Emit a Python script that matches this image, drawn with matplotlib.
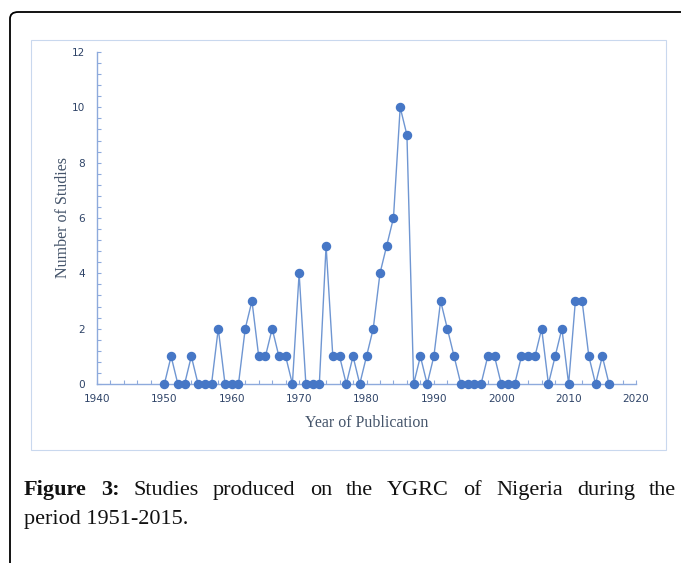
import matplotlib
matplotlib.use("Agg")
import matplotlib.pyplot as plt
from matplotlib.patches import FancyBboxPatch, Rectangle
from matplotlib.ticker import MultipleLocator

years = list(range(1950, 2017))
studies = [0, 1, 0, 0, 1, 0, 0, 0, 2, 0,
           0, 0, 2, 3, 1, 1, 2, 1, 1, 0,
           4, 0, 0, 0, 5, 1, 1, 0, 1, 0,
           1, 2, 4, 5, 6, 10, 9, 0, 1, 0,
           1, 3, 2, 1, 0, 0, 0, 0, 1, 1,
           0, 0, 0, 1, 1, 1, 2, 0, 1, 2,
           0, 3, 3, 1, 0, 1, 0]
x_ticks = [1940, 1950, 1960, 1970, 1980, 1990, 2000, 2010, 2020]
y_ticks = [0, 2, 4, 6, 8, 10, 12]
x_label = "Year of Publication"
y_label = "Number of Studies"
caption_bold = "Figure 3:"
caption_line1 = "Studies produced on the YGRC of Nigeria during the"
caption_line2 = "period 1951-2015."

W, H = 681, 563
fig = plt.figure(figsize=(W / 100, H / 100), dpi=100)

# outer black frame (rounded top-left corner)
frame = FancyBboxPatch((10 / W, -0.2), 1.2, (H - 12) / H + 0.2,
                       boxstyle="round,pad=0,rounding_size=0.012",
                       transform=fig.transFigure, fill=False,
                       edgecolor="black", linewidth=1.3, clip_on=False)
fig.patches.append(frame)

# chart area box
box = Rectangle((31 / W, (H - 450) / H), (666 - 31) / W, (450 - 40) / H,
                transform=fig.transFigure, fill=False,
                edgecolor="#c9d8ee", linewidth=0.8)
fig.patches.append(box)

ax = fig.add_axes([97 / W, (H - 384) / H, (636 - 97) / W, (384 - 52) / H])
axis_col = "#8eaadc"
label_col = "#44546a"
ax.plot(years, studies, color="#6f96d2", linewidth=1.0,
        marker="o", markersize=5.8, markerfacecolor="#4677c6",
        markeredgecolor="#4677c6", clip_on=False, zorder=3)
ax.set_xlim(1940, 2020)
ax.set_ylim(0, 12)
ax.set_xticks(x_ticks)
ax.set_yticks(y_ticks)
ax.xaxis.set_minor_locator(MultipleLocator(2))
ax.yaxis.set_minor_locator(MultipleLocator(0.4))
for s in ["top", "right"]:
    ax.spines[s].set_visible(False)
for s in ["left", "bottom"]:
    ax.spines[s].set_color(axis_col)
    ax.spines[s].set_linewidth(1.0)
ax.tick_params(axis="both", which="both", direction="in", color=axis_col,
               length=3, width=0.8)
ax.tick_params(axis="both", which="major", labelsize=7.6, labelcolor="#2f4468")
ax.tick_params(axis="y", which="major", pad=8.5)
ax.tick_params(axis="x", which="major", pad=7)
ax.set_xlabel(x_label, family="Liberation Serif", fontsize=11.5,
              color=label_col, labelpad=8)
ax.set_ylabel(y_label, family="Liberation Serif", fontsize=11.5,
              color=label_col, labelpad=0.5)
ax.patch.set_alpha(0)

# caption (justified first line)
fig.canvas.draw()
renderer = fig.canvas.get_renderer()
fs = 16
left_px, right_px = 24, 676
y1 = 1 - 495 / H
y2 = 1 - 524 / H

words = [(w, "bold") for w in caption_bold.split()] + \
        [(w, "normal") for w in caption_line1.split()]
texts = []
widths = []
for w, wt in words:
    t = fig.text(0, y1, w, family="Liberation Serif", fontsize=fs,
                 fontweight=wt, va="baseline", ha="left", color="#111111")
    bb = t.get_window_extent(renderer=renderer)
    texts.append(t)
    widths.append(bb.width)
gap = (right_px - left_px - sum(widths)) / (len(words) - 1)
xcur = left_px
for t, wd in zip(texts, widths):
    t.set_x(xcur / W)
    xcur += wd + gap

fig.text(left_px / W, y2, caption_line2, family="Liberation Serif",
         fontsize=fs, va="baseline", ha="left", color="#111111")

fig.savefig("out.png", dpi=100)
